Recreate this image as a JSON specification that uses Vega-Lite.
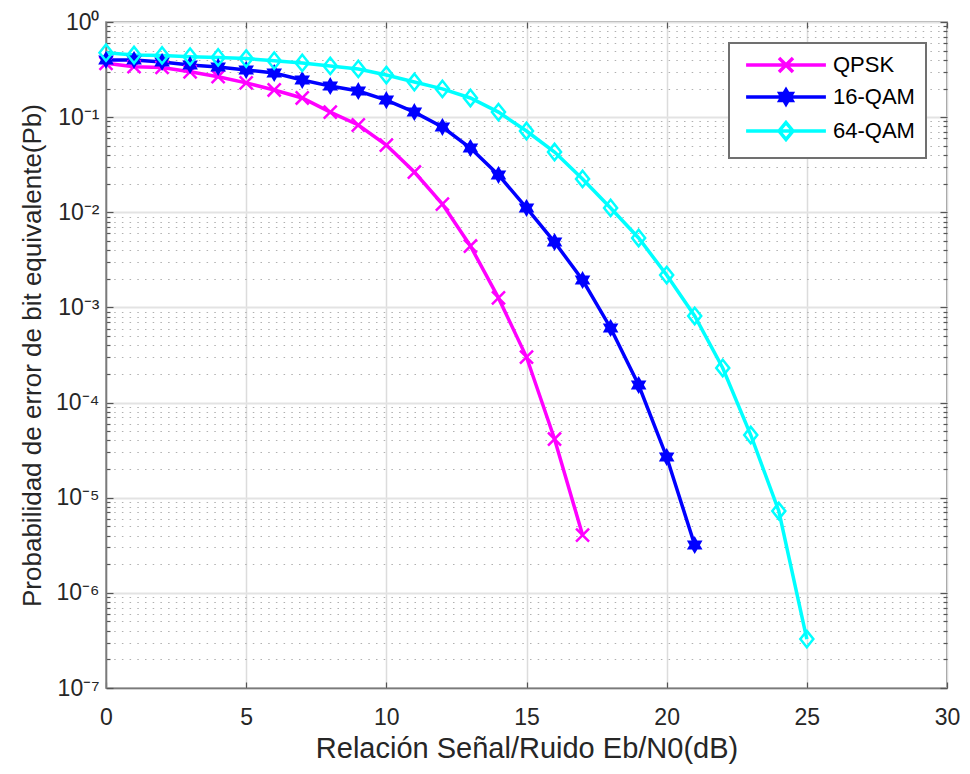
{
  "$schema": "https://vega.github.io/schema/vega-lite/v6.json",
  "width": 841,
  "height": 666,
  "autosize": {"type": "none"},
  "padding": {"left": 106, "top": 22, "right": 23, "bottom": 86},
  "background": "white",
  "config": {
    "font": "Liberation Sans",
    "view": {"stroke": "#7a7a7a", "strokeWidth": 1.5},
    "axis": {
      "labelFont": "Liberation Sans",
      "titleFont": "Liberation Sans",
      "labelColor": "#262626",
      "titleColor": "#262626",
      "labelFontSize": 23,
      "titleFontSize": 26,
      "titleFontWeight": "normal",
      "domainColor": "#7a7a7a",
      "domainWidth": 1.5,
      "tickColor": "#555555",
      "tickWidth": 1.2,
      "gridColor": "#dcdcdc",
      "gridWidth": 1.5
    },
    "legend": {
      "labelFont": "Liberation Sans",
      "labelFontSize": 22,
      "labelColor": "#000000",
      "strokeColor": "#707070",
      "strokeWidth": 2,
      "fillColor": "white",
      "padding": 11,
      "symbolSize": 196,
      "rowPadding": 4
    }
  },
  "data": {
    "values": [
      {"snr": 0, "pb": 0.368, "serie": "QPSK"},
      {"snr": 1, "pb": 0.339, "serie": "QPSK"},
      {"snr": 2, "pb": 0.333, "serie": "QPSK"},
      {"snr": 3, "pb": 0.30, "serie": "QPSK"},
      {"snr": 4, "pb": 0.266, "serie": "QPSK"},
      {"snr": 5, "pb": 0.229, "serie": "QPSK"},
      {"snr": 6, "pb": 0.193, "serie": "QPSK"},
      {"snr": 7, "pb": 0.159, "serie": "QPSK"},
      {"snr": 8, "pb": 0.113, "serie": "QPSK"},
      {"snr": 9, "pb": 0.0827, "serie": "QPSK"},
      {"snr": 10, "pb": 0.0509, "serie": "QPSK"},
      {"snr": 11, "pb": 0.0265, "serie": "QPSK"},
      {"snr": 12, "pb": 0.0122, "serie": "QPSK"},
      {"snr": 13, "pb": 0.00442, "serie": "QPSK"},
      {"snr": 14, "pb": 0.00126, "serie": "QPSK"},
      {"snr": 15, "pb": 0.000301, "serie": "QPSK"},
      {"snr": 16, "pb": 0.0000414, "serie": "QPSK"},
      {"snr": 17, "pb": 0.00000405, "serie": "QPSK"},
      {"snr": 0, "pb": 0.399, "serie": "16-QAM"},
      {"snr": 1, "pb": 0.399, "serie": "16-QAM"},
      {"snr": 2, "pb": 0.38, "serie": "16-QAM"},
      {"snr": 3, "pb": 0.353, "serie": "16-QAM"},
      {"snr": 4, "pb": 0.336, "serie": "16-QAM"},
      {"snr": 5, "pb": 0.313, "serie": "16-QAM"},
      {"snr": 6, "pb": 0.291, "serie": "16-QAM"},
      {"snr": 7, "pb": 0.246, "serie": "16-QAM"},
      {"snr": 8, "pb": 0.212, "serie": "16-QAM"},
      {"snr": 9, "pb": 0.188, "serie": "16-QAM"},
      {"snr": 10, "pb": 0.151, "serie": "16-QAM"},
      {"snr": 11, "pb": 0.113, "serie": "16-QAM"},
      {"snr": 12, "pb": 0.0788, "serie": "16-QAM"},
      {"snr": 13, "pb": 0.0474, "serie": "16-QAM"},
      {"snr": 14, "pb": 0.0247, "serie": "16-QAM"},
      {"snr": 15, "pb": 0.0111, "serie": "16-QAM"},
      {"snr": 16, "pb": 0.00487, "serie": "16-QAM"},
      {"snr": 17, "pb": 0.00194, "serie": "16-QAM"},
      {"snr": 18, "pb": 0.000608, "serie": "16-QAM"},
      {"snr": 19, "pb": 0.000153, "serie": "16-QAM"},
      {"snr": 20, "pb": 0.0000268, "serie": "16-QAM"},
      {"snr": 21, "pb": 0.00000318, "serie": "16-QAM"},
      {"snr": 0, "pb": 0.476, "serie": "64-QAM"},
      {"snr": 1, "pb": 0.45, "serie": "64-QAM"},
      {"snr": 2, "pb": 0.445, "serie": "64-QAM"},
      {"snr": 3, "pb": 0.432, "serie": "64-QAM"},
      {"snr": 4, "pb": 0.424, "serie": "64-QAM"},
      {"snr": 5, "pb": 0.413, "serie": "64-QAM"},
      {"snr": 6, "pb": 0.392, "serie": "64-QAM"},
      {"snr": 7, "pb": 0.371, "serie": "64-QAM"},
      {"snr": 8, "pb": 0.345, "serie": "64-QAM"},
      {"snr": 9, "pb": 0.321, "serie": "64-QAM"},
      {"snr": 10, "pb": 0.277, "serie": "64-QAM"},
      {"snr": 11, "pb": 0.234, "serie": "64-QAM"},
      {"snr": 12, "pb": 0.198, "serie": "64-QAM"},
      {"snr": 13, "pb": 0.159, "serie": "64-QAM"},
      {"snr": 14, "pb": 0.113, "serie": "64-QAM"},
      {"snr": 15, "pb": 0.0715, "serie": "64-QAM"},
      {"snr": 16, "pb": 0.043, "serie": "64-QAM"},
      {"snr": 17, "pb": 0.0224, "serie": "64-QAM"},
      {"snr": 18, "pb": 0.0111, "serie": "64-QAM"},
      {"snr": 19, "pb": 0.00537, "serie": "64-QAM"},
      {"snr": 20, "pb": 0.00219, "serie": "64-QAM"},
      {"snr": 21, "pb": 0.000813, "serie": "64-QAM"},
      {"snr": 22, "pb": 0.000231, "serie": "64-QAM"},
      {"snr": 23, "pb": 0.0000456, "serie": "64-QAM"},
      {"snr": 24, "pb": 0.00000725, "serie": "64-QAM"},
      {"snr": 25, "pb": 0.000000327, "serie": "64-QAM"}
    ]
  },
  "resolve": {"axis": {"x": "independent", "y": "independent"}},
  "layer": [
    {
      "mark": {"type": "line", "strokeWidth": 3.5},
      "encoding": {
        "x": {
          "field": "snr",
          "type": "quantitative",
          "scale": {"domain": [0, 30], "nice": false, "zero": false},
          "axis": {
            "title": "Relación Señal/Ruido Eb/N0(dB)",
            "titleFontSize": 29,
            "values": [0, 5, 10, 15, 20, 25, 30],
            "format": "d",
            "tickSize": -6,
            "labelPadding": 24,
            "titlePadding": 5,
            "labelFlush": false
          }
        },
        "y": {
          "field": "pb",
          "type": "quantitative",
          "scale": {"type": "log", "domain": [1e-7, 1], "nice": false},
          "axis": {
            "title": "Probabilidad de error de bit equivalente(Pb)",
            "values": [1e-7, 2e-7, 3e-7, 4e-7, 5e-7, 6e-7, 7e-7, 8e-7, 9e-7,
                       1e-6, 2e-6, 3e-6, 4e-6, 5e-6, 6e-6, 7e-6, 8e-6, 9e-6,
                       1e-5, 2e-5, 3e-5, 4e-5, 5e-5, 6e-5, 7e-5, 8e-5, 9e-5,
                       1e-4, 2e-4, 3e-4, 4e-4, 5e-4, 6e-4, 7e-4, 8e-4, 9e-4,
                       1e-3, 2e-3, 3e-3, 4e-3, 5e-3, 6e-3, 7e-3, 8e-3, 9e-3,
                       1e-2, 2e-2, 3e-2, 4e-2, 5e-2, 6e-2, 7e-2, 8e-2, 9e-2,
                       1e-1, 2e-1, 3e-1, 4e-1, 5e-1, 6e-1, 7e-1, 8e-1, 9e-1, 1],
            "labelExpr": "abs(log(datum.value)/LN10 - round(log(datum.value)/LN10)) < 1e-6 ? (round(log(datum.value)/LN10) == 0 ? '10⁰' : '10⁻' + ['', '¹', '²', '³', '⁴', '⁵', '⁶', '⁷'][-round(log(datum.value)/LN10)]) : ''",
            "labelOverlap": false,
            "labelFlush": false,
            "tickSize": {"condition": {"test": "abs(log(datum.value)/LN10 - round(log(datum.value)/LN10)) < 1e-6", "value": -7}, "value": -4},
            "gridDash": {"condition": {"test": "abs(log(datum.value)/LN10 - round(log(datum.value)/LN10)) < 1e-6", "value": []}, "value": [1.5, 6.2]},
            "gridColor": {"condition": {"test": "abs(log(datum.value)/LN10 - round(log(datum.value)/LN10)) < 1e-6", "value": "#e3e3e3"}, "value": "#b0b0b0"},
            "gridWidth": {"condition": {"test": "abs(log(datum.value)/LN10 - round(log(datum.value)/LN10)) < 1e-6", "value": 2}, "value": 1.2},
            "labelPadding": 14,
            "titlePadding": 10
          }
        },
        "color": {
          "field": "serie",
          "type": "nominal",
          "sort": ["QPSK", "16-QAM", "64-QAM"],
          "scale": {"domain": ["QPSK", "16-QAM", "64-QAM"], "range": ["#ff00ff", "#0000ff", "#00ffff"]},
          "legend": {
            "title": null,
            "orient": "top-right",
            "offset": 21,
            "symbolOffset": 35,
            "labelOffset": 36,
            "encode": {
              "symbols": {
                "update": {
                  "shape": {"signal": "datum.value === 'QPSK' ? 'M-5.7,0L5.7,0M-1,-1L1,1M-1,1L1,-1' : datum.value === '16-QAM' ? 'M-5.7,0L5.7,0M0,-1L0.289,-0.5L0.866,-0.5L0.577,0L0.866,0.5L0.289,0.5L0,1L-0.289,0.5L-0.866,0.5L-0.577,0L-0.866,-0.5L-0.289,-0.5Z' : 'M-5.7,0L5.7,0M0,-1.2L1,0L0,1.2L-1,0Z'"},
                  "stroke": {"signal": "datum.value === 'QPSK' ? '#ff00ff' : datum.value === '16-QAM' ? '#0000ff' : '#00ffff'"},
                  "fill": {"signal": "datum.value === '16-QAM' ? '#0000ff' : 'transparent'"},
                  "strokeWidth": {"value": 3.5},
                  "opacity": {"value": 1}
                }
              }
            }
          }
        }
      }
    },
    {
      "transform": [{"filter": "datum.serie === 'QPSK'"}],
      "mark": {"type": "point", "shape": "M-1,-1L1,1M-1,1L1,-1", "filled": false, "color": "#ff00ff", "size": 170, "strokeWidth": 2.5, "opacity": 1},
      "encoding": {
        "x": {
          "field": "snr",
          "type": "quantitative",
          "axis": {
            "orient": "top",
            "title": null,
            "labels": false,
            "grid": false,
            "domain": false,
            "values": [0, 5, 10, 15, 20, 25, 30],
            "tickSize": -6
          }
        },
        "y": {
          "field": "pb",
          "type": "quantitative",
          "axis": {
            "orient": "right",
            "title": null,
            "labels": false,
            "grid": false,
            "domain": false,
            "values": [1e-7, 2e-7, 3e-7, 4e-7, 5e-7, 6e-7, 7e-7, 8e-7, 9e-7,
                       1e-6, 2e-6, 3e-6, 4e-6, 5e-6, 6e-6, 7e-6, 8e-6, 9e-6,
                       1e-5, 2e-5, 3e-5, 4e-5, 5e-5, 6e-5, 7e-5, 8e-5, 9e-5,
                       1e-4, 2e-4, 3e-4, 4e-4, 5e-4, 6e-4, 7e-4, 8e-4, 9e-4,
                       1e-3, 2e-3, 3e-3, 4e-3, 5e-3, 6e-3, 7e-3, 8e-3, 9e-3,
                       1e-2, 2e-2, 3e-2, 4e-2, 5e-2, 6e-2, 7e-2, 8e-2, 9e-2,
                       1e-1, 2e-1, 3e-1, 4e-1, 5e-1, 6e-1, 7e-1, 8e-1, 9e-1, 1],
            "tickSize": {"condition": {"test": "abs(log(datum.value)/LN10 - round(log(datum.value)/LN10)) < 1e-6", "value": -7}, "value": -4}
          }
        }
      }
    },
    {
      "transform": [{"filter": "datum.serie === '16-QAM'"}],
      "mark": {"type": "point", "shape": "M0,-1L0.289,-0.5L0.866,-0.5L0.577,0L0.866,0.5L0.289,0.5L0,1L-0.289,0.5L-0.866,0.5L-0.577,0L-0.866,-0.5L-0.289,-0.5Z", "filled": true, "fill": "#0000ff", "stroke": "#0000ff", "size": 170, "strokeWidth": 2.5, "opacity": 1},
      "encoding": {
        "x": {"field": "snr", "type": "quantitative", "axis": null},
        "y": {"field": "pb", "type": "quantitative", "axis": null}
      }
    },
    {
      "transform": [{"filter": "datum.serie === '64-QAM'"}],
      "mark": {"type": "point", "shape": "M0,-1.25L1,0L0,1.25L-1,0Z", "filled": false, "color": "#00ffff", "size": 170, "strokeWidth": 2.5, "opacity": 1},
      "encoding": {
        "x": {"field": "snr", "type": "quantitative", "axis": null},
        "y": {"field": "pb", "type": "quantitative", "axis": null}
      }
    }
  ]
}
